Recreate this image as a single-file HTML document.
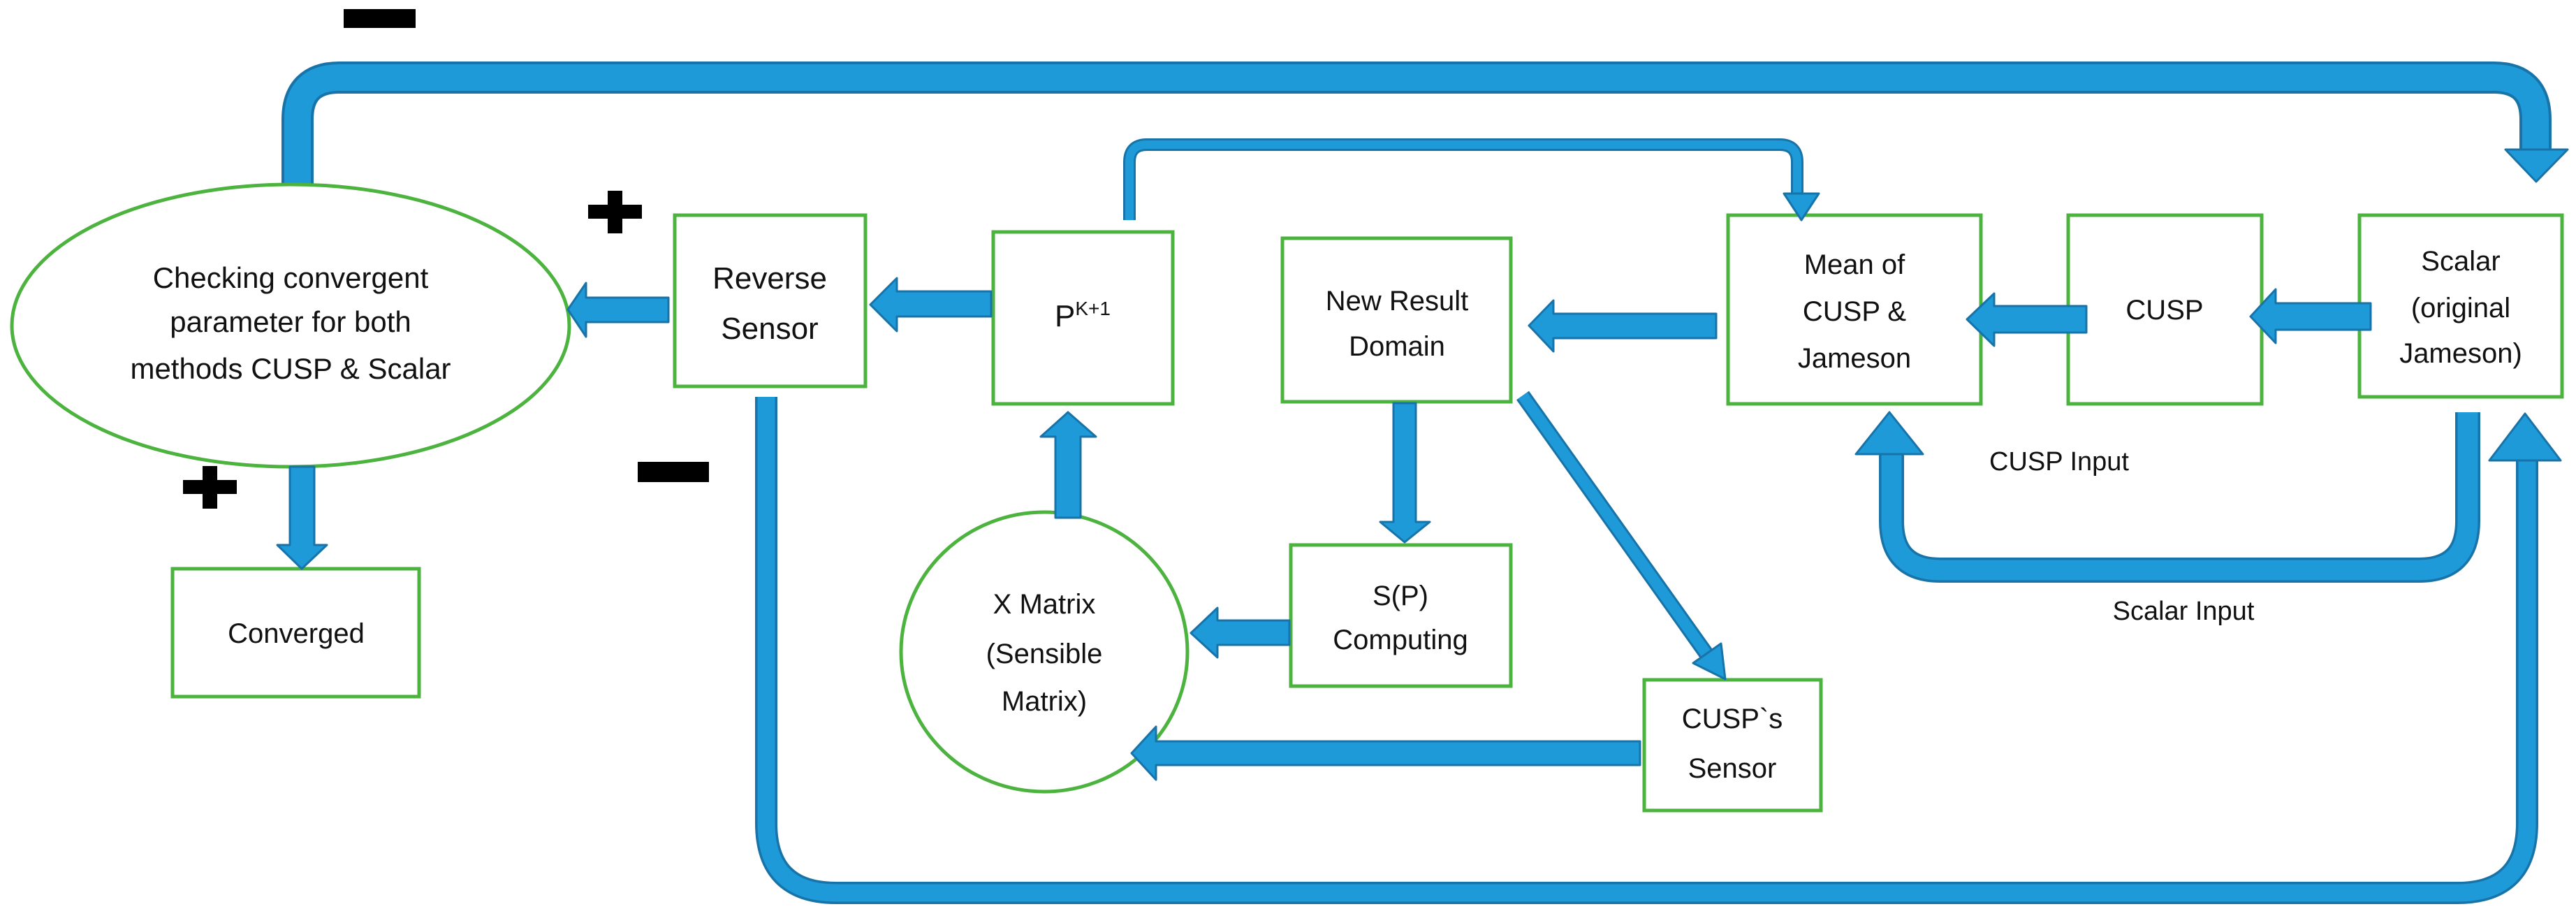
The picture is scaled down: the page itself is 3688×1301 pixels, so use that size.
<!DOCTYPE html>
<html><head><meta charset="utf-8"><style>
html,body{margin:0;padding:0;background:#fff}
svg{display:block}
text{font-family:"Liberation Sans",sans-serif;fill:#111}
</style></head><body>
<svg width="3688" height="1301" viewBox="0 0 3688 1301" xmlns="http://www.w3.org/2000/svg">
<g fill="none" stroke-linejoin="round">
<path d="M426 264 V171 Q426 111 486 111 H3570 Q3630 111 3630 171 V216" stroke="#1773a8" stroke-width="46"/>
<path d="M426 264 V171 Q426 111 486 111 H3570 Q3630 111 3630 171 V218" stroke="#1e9ad8" stroke-width="38"/>
<path d="M1097 568 V1178 Q1097 1278 1197 1278 H3518 Q3618 1278 3618 1178 V657" stroke="#1773a8" stroke-width="32"/>
<path d="M1097 568 V1178 Q1097 1278 1197 1278 H3518 Q3618 1278 3618 1178 V659" stroke="#1e9ad8" stroke-width="25"/>
<path d="M3533 590 V746 Q3533 816 3463 816 H2778 Q2708 816 2708 746 V648" stroke="#1773a8" stroke-width="36"/>
<path d="M3533 590 V746 Q3533 816 3463 816 H2778 Q2708 816 2708 746 V650" stroke="#1e9ad8" stroke-width="29"/>
<path d="M1617 315 V232 Q1617 207 1642 207 H2548 Q2573 207 2573 232 V279" stroke="#1773a8" stroke-width="18"/>
<path d="M1617 315 V232 Q1617 207 1642 207 H2548 Q2573 207 2573 232 V281" stroke="#1e9ad8" stroke-width="12"/>
<line x1="2180" y1="566" x2="2446" y2="940" stroke="#1773a8" stroke-width="22"/>
<line x1="2180" y1="566" x2="2446" y2="940" stroke="#1e9ad8" stroke-width="16"/>
</g>
<g fill="#fff" stroke="#4cb33f" stroke-width="5">
<ellipse cx="416" cy="466" rx="399" ry="202"/>
<ellipse cx="1495" cy="933" rx="205" ry="200"/>
<rect x="966" y="308" width="273" height="245"/>
<rect x="1422" y="332" width="257" height="246"/>
<rect x="247" y="814" width="353" height="183"/>
<rect x="1836" y="341" width="327" height="234"/>
<rect x="2474" y="308" width="362" height="270"/>
<rect x="2961" y="308" width="277" height="270"/>
<rect x="3378" y="308" width="290" height="260"/>
<rect x="1848" y="780" width="315" height="202"/>
<rect x="2354" y="973" width="253" height="187"/>
</g>
<g fill="#1e9ad8" stroke="#1773a8" stroke-width="3" stroke-linejoin="round">
<polygon points="3587,214 3676,214 3631,260"/>
<polygon points="3564,659 3666,659 3615,592"/>
<polygon points="2657,650 2753,650 2705,590"/>
<polygon points="2554,277 2604,277 2579,315"/>
<polygon points="2470,972 2464,921 2424,949"/>
<polygon points="957,426 839,426 839,405 813,443 839,482 839,461 957,461"/>
<polygon points="1419,417 1284,417 1284,398 1246,436 1284,474 1284,453 1419,453"/>
<polygon points="415,668 450,668 450,780 468,780 432,814 397,780 415,780"/>
<polygon points="1511,741 1547,741 1547,625 1569,625 1529,590 1490,625 1511,625"/>
<polygon points="2457,449 2224,449 2224,430 2189,466 2224,503 2224,484 2457,484"/>
<polygon points="2987,438 2855,438 2855,420 2816,457 2855,495 2855,476 2987,476"/>
<polygon points="3394,434 3258,434 3258,414 3222,453 3258,491 3258,472 3394,472"/>
<polygon points="1995,577 2027,577 2027,747 2047,747 2011,776 1976,747 1995,747"/>
<polygon points="2348,1061 1655,1061 1655,1040 1620,1078 1655,1116 1655,1095 2348,1095"/>
<polygon points="1846,888 1743,888 1743,870 1705,906 1743,941 1743,923 1846,923"/>
</g>
<g fill="#000">
<rect x="492" y="13" width="103" height="27"/>
<rect x="913" y="661" width="102" height="29"/>
<rect x="842" y="293" width="77" height="20"/><rect x="870" y="273" width="21" height="61"/>
<rect x="262" y="687" width="77" height="20"/><rect x="290" y="667" width="21" height="61"/>
</g>
<g font-size="42" text-anchor="middle">
<text x="416" y="412">Checking convergent</text>
<text x="416" y="475">parameter for both</text>
<text x="416" y="542">methods CUSP &amp; Scalar</text>
<text x="1102" y="413" font-size="44">Reverse</text>
<text x="1102" y="485" font-size="44">Sensor</text>
<text x="1550" y="467" font-size="44">P<tspan font-size="28" dy="-16">K+1</tspan></text>
<text x="424" y="920" font-size="40">Converged</text>
<text x="1495" y="878" font-size="40">X Matrix</text>
<text x="1495" y="949" font-size="40">(Sensible</text>
<text x="1495" y="1017" font-size="40">Matrix)</text>
<text x="2000" y="444" font-size="40">New Result</text>
<text x="2000" y="509" font-size="40">Domain</text>
<text x="2655" y="392" font-size="40">Mean of</text>
<text x="2655" y="459" font-size="40">CUSP &amp;</text>
<text x="2655" y="526" font-size="40">Jameson</text>
<text x="3099" y="457" font-size="40">CUSP</text>
<text x="3523" y="387" font-size="40">Scalar</text>
<text x="3523" y="454" font-size="40">(original</text>
<text x="3523" y="519" font-size="40">Jameson)</text>
<text x="2005" y="866" font-size="40">S(P)</text>
<text x="2005" y="929" font-size="40">Computing</text>
<text x="2480" y="1042" font-size="40">CUSP`s</text>
<text x="2480" y="1113" font-size="40">Sensor</text>
<text x="2948" y="673" font-size="38">CUSP Input</text>
<text x="3126" y="887" font-size="38">Scalar Input</text>
</g>
</svg>
</body></html>
